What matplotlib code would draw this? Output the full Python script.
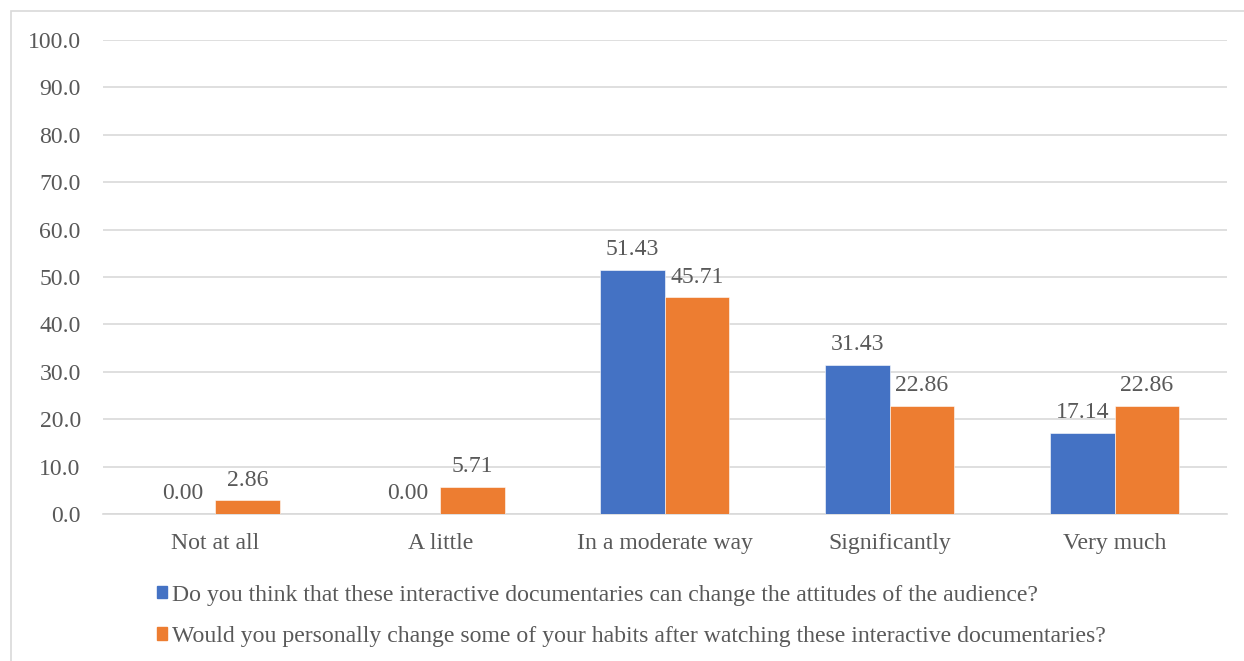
import numpy as np
import matplotlib.pyplot as plt
from matplotlib.patches import Rectangle, Patch

categories = ["Not at all", "A little", "In a moderate way", "Significantly", "Very much"]
attitudes = [0.00, 0.00, 51.43, 31.43, 17.14]
habits = [2.86, 5.71, 45.71, 22.86, 22.86]
series_names = [
    "Do you think that these interactive documentaries can change the attitudes of the audience?",
    "Would you personally change some of your habits after watching these interactive documentaries?",
]
yticks = [0, 10, 20, 30, 40, 50, 60, 70, 80, 90, 100]

plt.rcParams['font.family'] = ['Liberation Serif', 'DejaVu Serif']
text_color = '#595959'
grid_color = '#d9d9d9'
blue = '#4472C4'
orange = '#ED7D31'
fs = 17.1

fig = plt.figure(figsize=(12.44, 6.61), dpi=100)
ax = fig.add_axes([0.0828, 0.2224, 0.9035, 0.7171])

# outer chart frame
fig.patches.append(Rectangle((11 / 1244, -0.1), 1.2, 1.1 - 11 / 661,
                             transform=fig.transFigure, fill=False,
                             edgecolor=grid_color, lw=1.2))

x = np.arange(len(categories))
w = 0.287
b1 = ax.bar(x - w / 2, attitudes, w, color=blue, edgecolor='white', lw=0.4, zorder=3)
b2 = ax.bar(x + w / 2, habits, w, color=orange, edgecolor='white', lw=0.4, zorder=3)

for bars, vals in ((b1, attitudes), (b2, habits)):
    for rect, v in zip(bars, vals):
        ax.annotate(f"{v:.2f}", (rect.get_x() + rect.get_width() / 2, v),
                    xytext=(0, 7), textcoords='offset points',
                    ha='center', va='bottom', fontsize=fs, color=text_color)

ax.set_xlim(-0.5, len(categories) - 0.5)
ax.set_ylim(0, 100)
ax.set_yticks(yticks)
ax.set_yticklabels([f"{t:.1f}" for t in yticks])
ax.set_xticks(x)
ax.set_xticklabels(categories)
ax.tick_params(length=0, labelsize=fs, labelcolor=text_color)
ax.tick_params(axis='y', pad=16)
ax.tick_params(axis='x', pad=14)
ax.grid(axis='y', color=grid_color, lw=1.2, zorder=0)
for s in ('top', 'right', 'left'):
    ax.spines[s].set_visible(False)
ax.spines['bottom'].set_color(grid_color)
ax.spines['bottom'].set_linewidth(1.2)

handles = [Patch(color=blue), Patch(color=orange)]
leg = fig.legend(handles, series_names, loc='upper left',
                 bbox_to_anchor=(147 / 1244, 1 - 575 / 661), frameon=False,
                 fontsize=fs, handlelength=0.45, handleheight=0.45,
                 handletextpad=0.2, labelspacing=0.85, borderaxespad=0)
for t in leg.get_texts():
    t.set_color(text_color)

fig.savefig('out.png', dpi=100)
